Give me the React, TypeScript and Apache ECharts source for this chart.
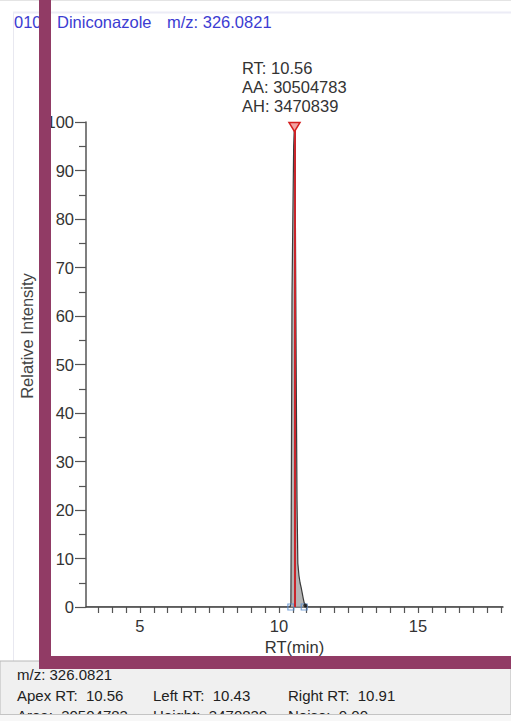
import React, { useEffect, useRef } from "react";
import * as echarts from "echarts";

// ---- data ----
const compoundIndex = "010";
const compoundName = "Diniconazole";
const mzText = "m/z: 326.0821";
const rtMin = 3.06;
const rtMax = 18.06;
const xLabelValues = [5, 10, 15];
const yMax = 100;
const yInterval = 10;

const chromTimes = [3.06, 10.4, 10.43, 10.45, 10.47, 10.5, 10.53, 10.56, 10.59, 10.62, 10.65, 10.68, 10.72, 10.76, 10.8, 10.84, 10.88, 10.91, 10.95, 11.0, 18.06];
const chromIntensity = [0, 0, 0.8, 30, 64, 80, 95, 100, 82, 50, 22, 9, 6.5, 5, 4, 2.8, 1.6, 0.8, 0.3, 0, 0];

const apexRT = 10.56;
const leftRT = 10.43;
const rightRT = 10.91;
const peakArea = 30504783;
const peakHeight = 3470839;
const noise = "0.00";

export default function App() {
  const ref = useRef<HTMLDivElement>(null);
  useEffect(() => {
    if (!ref.current) return;
    const chart = echarts.init(ref.current, null, { renderer: "svg" });
    const font = "Arial, 'Liberation Sans', sans-serif";
    const lineData = chromTimes.map((t, i) => [t, chromIntensity[i]]);
    const areaData = lineData.filter((p) => p[0] >= leftRT && p[0] <= rightRT);
    const minorTicks: number[] = [];
    for (let v = 3.5; v <= 18.0001; v += 0.5) minorTicks.push(Math.round(v * 10) / 10);
    const axisColor = "#555";

    chart.setOption({
      animation: false,
      backgroundColor: "#ffffff",
      grid: { left: 86, right: 8, top: 122, bottom: 114, containLabel: false },
      xAxis: {
        type: "value",
        min: rtMin,
        max: rtMax,
        name: "RT(min)",
        nameLocation: "middle",
        nameGap: 30,
        nameTextStyle: { fontSize: 16.5, color: "#333", fontFamily: font },
        axisLine: { show: true, lineStyle: { color: axisColor, width: 1.5 } },
        axisTick: { show: true, customValues: minorTicks, length: 6, lineStyle: { color: axisColor, width: 1.2 } },
        axisLabel: { customValues: xLabelValues, fontSize: 16.5, color: "#333", fontFamily: font, margin: 10 },
        splitLine: { show: false },
      },
      yAxis: {
        type: "value",
        min: 0,
        max: yMax,
        interval: yInterval,
        axisLine: { show: true, lineStyle: { color: axisColor, width: 1.5 } },
        axisTick: { show: true, length: 11, lineStyle: { color: axisColor, width: 1.2 } },
        minorTick: { show: true, splitNumber: 2, length: 7, lineStyle: { color: axisColor, width: 1.2 } },
        axisLabel: { fontSize: 16.5, color: "#333", fontFamily: font, margin: 12 },
        splitLine: { show: false },
        minorSplitLine: { show: false },
      },
      series: [
        {
          type: "line",
          data: areaData,
          symbol: "none",
          lineStyle: { width: 0 },
          areaStyle: { color: "#9c9c9c", opacity: 0.75 },
          z: 2,
        },
        {
          type: "line",
          data: lineData,
          symbol: "none",
          lineStyle: { color: "#3a3a3a", width: 1.2 },
          z: 3,
          markLine: {
            silent: true,
            symbol: "none",
            label: { show: false },
            lineStyle: { color: "#c8262c", width: 2, type: "solid" },
            data: [[{ coord: [apexRT, 0] }, { coord: [apexRT, yMax] }]],
          },
          markPoint: {
            silent: true,
            data: [
              {
                coord: [apexRT, yMax],
                symbol: "triangle",
                symbolRotate: 180,
                symbolSize: [11, 9],
                symbolOffset: [0, 5],
                itemStyle: { color: "#f2a3a3", borderColor: "#d42020", borderWidth: 1.5 },
                label: { show: false },
              },
            ],
          },
        },
        {
          type: "scatter",
          data: [[leftRT, 0], [rightRT, 0]],
          symbol: "rect",
          symbolSize: 6,
          itemStyle: { color: "rgba(255,255,255,0)", borderColor: "#5a8fd0", borderWidth: 1.2 },
          z: 4,
        },
        {
          type: "scatter",
          data: [[10.95, 0.3]],
          symbol: "circle",
          symbolSize: 4,
          itemStyle: { color: "#111" },
          z: 5,
        },
      ],
      graphic: [
        // faint panel borders
        { type: "line", shape: { x1: 0, y1: 0.5, x2: 511, y2: 0.5 }, style: { stroke: "#e4e4e4", lineWidth: 1 }, z: 1 },
        { type: "line", shape: { x1: 13.5, y1: 12, x2: 13.5, y2: 661 }, style: { stroke: "#e8e8f0", lineWidth: 1 }, z: 1 },
        { type: "line", shape: { x1: 13, y1: 12.5, x2: 511, y2: 12.5 }, style: { stroke: "#ececf6", lineWidth: 2 }, z: 1 },
        // y axis name
        {
          type: "text",
          x: 27,
          y: 336,
          rotation: Math.PI / 2,
          style: { text: "Relative Intensity", fontSize: 16.5, fill: "#444", fontFamily: font, align: "center", verticalAlign: "middle" },
          z: 10,
        },
        // title
        { type: "text", x: 14, y: 22, style: { text: compoundIndex, fontSize: 16.5, fill: "#3c3cd2", fontFamily: font, verticalAlign: "middle" }, z: 10 },
        { type: "text", x: 57, y: 22, style: { text: compoundName, fontSize: 16.5, fill: "#3c3cd2", fontFamily: font, verticalAlign: "middle" }, z: 10 },
        { type: "text", x: 167, y: 22, style: { text: mzText, fontSize: 16.5, fill: "#3c3cd2", fontFamily: font, verticalAlign: "middle" }, z: 10 },
        // peak annotation
        {
          type: "text",
          x: 242,
          y: 58,
          style: {
            text: `RT: ${apexRT.toFixed(2)}\nAA: ${peakArea}\nAH: ${peakHeight}`,
            fontSize: 16.5,
            lineHeight: 19,
            fill: "#333",
            fontFamily: font,
          },
          z: 10,
        },
        // bottom info panel
        { type: "rect", shape: { x: 0, y: 661, width: 511, height: 54 }, style: { fill: "#f0f0f0", stroke: "#b8b8b8", lineWidth: 1 }, z: 20 },
        { type: "text", x: 17, y: 674, style: { text: mzText, fontSize: 15, fill: "#222", fontFamily: font, verticalAlign: "middle" }, z: 21 },
        { type: "text", x: 17, y: 695, style: { text: `Apex RT:  ${apexRT.toFixed(2)}`, fontSize: 15, fill: "#222", fontFamily: font, verticalAlign: "middle" }, z: 21 },
        { type: "text", x: 153, y: 695, style: { text: `Left RT:  ${leftRT.toFixed(2)}`, fontSize: 15, fill: "#222", fontFamily: font, verticalAlign: "middle" }, z: 21 },
        { type: "text", x: 288, y: 695, style: { text: `Right RT:  ${rightRT.toFixed(2)}`, fontSize: 15, fill: "#222", fontFamily: font, verticalAlign: "middle" }, z: 21 },
        { type: "text", x: 17, y: 715, style: { text: `Area:  ${peakArea}`, fontSize: 15, fill: "#222", fontFamily: font, verticalAlign: "middle" }, z: 21 },
        { type: "text", x: 153, y: 715, style: { text: `Height:  ${peakHeight}`, fontSize: 15, fill: "#222", fontFamily: font, verticalAlign: "middle" }, z: 21 },
        { type: "text", x: 288, y: 715, style: { text: `Noise:  ${noise}`, fontSize: 15, fill: "#222", fontFamily: font, verticalAlign: "middle" }, z: 21 },
        { type: "rect", shape: { x: 0, y: 714, width: 511, height: 7 }, style: { fill: "#f7f7f7", stroke: "#c8c8c8", lineWidth: 0 }, z: 22 },
        { type: "line", shape: { x1: 0, y1: 714.5, x2: 511, y2: 714.5 }, style: { stroke: "#c4c4c4", lineWidth: 1 }, z: 23 },
        // maroon frame overlay
        { type: "rect", shape: { x: 39, y: 0, width: 12, height: 669 }, style: { fill: "#913b65" }, z: 50 },
        { type: "rect", shape: { x: 39, y: 656, width: 472, height: 13 }, style: { fill: "#913b65" }, z: 50 },
      ],
    });
    return () => chart.dispose();
  }, []);
  return <div ref={ref} style={{ position: "fixed", left: 0, top: 0, width: 511, height: 721 }} />;
}
